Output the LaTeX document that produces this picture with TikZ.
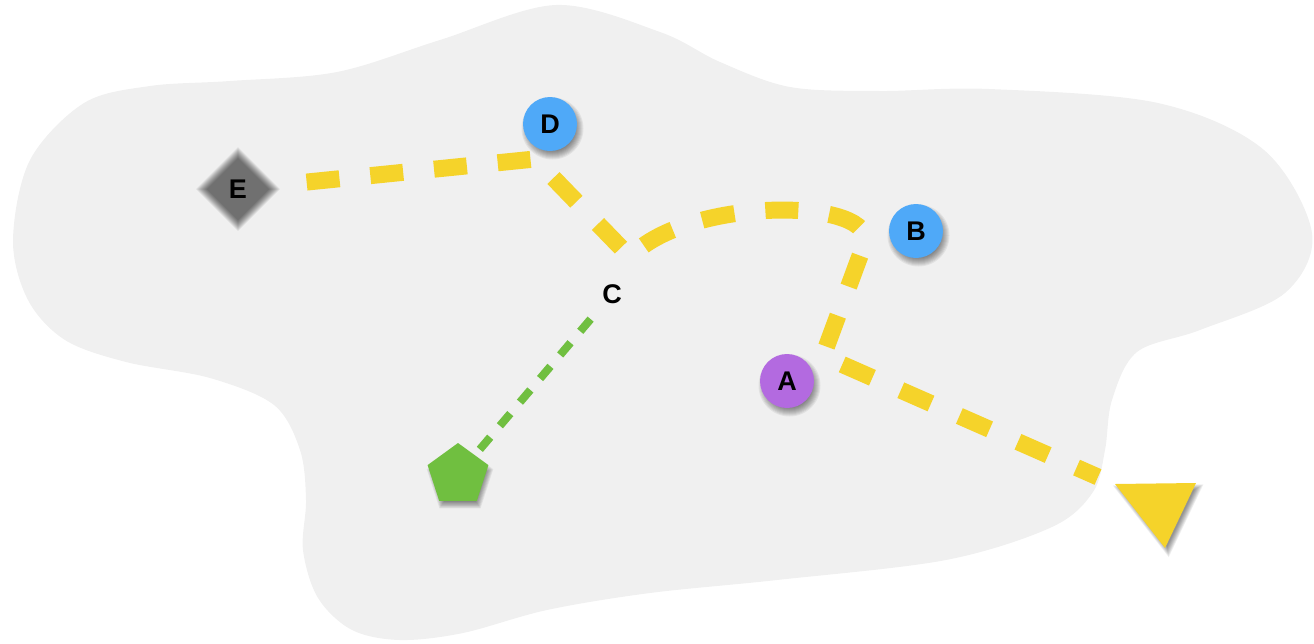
\documentclass[tikz,border=0pt]{standalone}
\usepackage{fontspec}
\setmainfont{Liberation Sans}
\usetikzlibrary{shapes.geometric,calc}
\definecolor{blobgray}{HTML}{F0F0F0}
\definecolor{roadyellow}{HTML}{F5D32A}
\definecolor{nodeblue}{HTML}{4FA9F8}
\definecolor{nodepurple}{HTML}{B36AE0}
\definecolor{leafgreen}{HTML}{70BF40}
\pgfdeclarelayer{bg}
\pgfdeclarelayer{shade}
\pgfsetlayers{bg,shade,main}
\begin{document}
\begin{tikzpicture}[x=1pt,y=-1pt,
  lbl/.style={font=\fontsize{27}{27}\selectfont\bfseries, text=black},
  dot/.style={circle, minimum size=54pt, inner sep=0pt, lbl},
  softshade/.style={fill=black, opacity=0.06},
  road/.style={draw=roadyellow, line width=17pt, dash pattern=on 33pt off 31pt},
  trail/.style={draw=leafgreen, line width=8pt, dash pattern=on 16pt off 15pt}]
\useasboundingbox (0,0) rectangle (1314,643);

% nodes
\node[dot, fill=nodeblue] (D) at (550,124) {D};
\node[dot, fill=nodeblue] (B) at (916,231) {B};
\node[dot, fill=nodepurple] (A) at (787,381) {A};
\node[lbl, inner sep=0pt] (C) at (612,294) {C};
\node[diamond, minimum width=70pt, minimum height=71pt, inner sep=0pt, lbl] (E) at (238,189) {E};
\node[regular polygon, regular polygon sides=5, minimum size=64pt, inner sep=0pt, fill=leafgreen] (P5) at (458,475) {};
\coordinate (T1) at (1115,484);
\coordinate (T2) at (1196,483);
\coordinate (T3) at (1165,548);
\coordinate (Tc) at (1158.7,505);
\fill[roadyellow] (T1) -- (T2) -- (T3) -- cycle;

% route coordinates
\coordinate (K) at (535,159);
\coordinate (J) at (630,257);
\coordinate (Q) at (864,245);
\coordinate (P) at (823,356);
\coordinate (Tend) at (1098,477);

\begin{pgfonlayer}{shade}
% soft shadows of the circles
\foreach \n in {D,B,A}{
  \foreach \r in {23,24,...,31}{
    \fill[softshade] ($(\n.center)+(2.5,4.5)$) circle[radius=\r];
  }
}
% pentagon shadow
\foreach \r in {27,28,...,35}{
  \fill[softshade, shift={($(P5.center)+(2,5)$)}] (-90:\r) -- (-18:\r) -- (54:\r) -- (126:\r) -- (198:\r) -- cycle;
}
% triangle shadow
\foreach \k in {0.88,0.91,...,1.12}{
  \fill[softshade, shift={($(Tc)+(3,4)$)}, scale=\k] (-43.7,-21) -- (37.3,-22) -- (6.3,43) -- cycle;
}
% blurred diamond E
\foreach \s in {31,32,...,42}{
  \fill[black, opacity=0.057] ($(E.center)+(0,-\s)$) -- ($(E.center)+(\s,0)$) -- ($(E.center)+(0,\s)$) -- ($(E.center)+(-\s,0)$) -- cycle;
}
\end{pgfonlayer}

\begin{pgfonlayer}{bg}
\fill[blobgray] plot[smooth cycle, tension=0.55] coordinates {
 (556,5) (660,32) (720,62) (790,87) (880,91) (989,89) (1158,103) (1264,150) (1312,233)
 (1285,293) (1200,330) (1137,352) (1112,400) (1105,450) (1093,492) (1052,527)
 (946,560) (777,580) (650,593) (547,610) (463,633) (400,640) (352,630) (318,598)
 (303,550) (306,500) (300,450) (274,405) (210,378) (126,362) (65,340) (28,300)
 (13,240) (30,160) (84,103) (150,86) (230,81) (337,72) (440,40)};
\path[road, shorten <=40pt, dash phase=35pt] (E.center) -- (K) -- (J) .. controls (690,195) and (881,198) .. (Q) -- (P) -- (Tend);
\path[trail, shorten <=33pt] (C.center) -- (P5.center);
\end{pgfonlayer}
\end{tikzpicture}
\end{document}
